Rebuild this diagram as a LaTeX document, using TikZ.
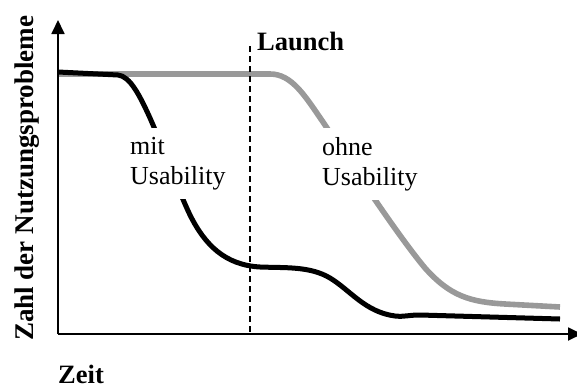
\documentclass[tikz,border=0pt]{standalone}
\usepackage{fontspec}
\setmainfont{Liberation Serif}
\usetikzlibrary{arrows.meta}
\definecolor{curvegray}{RGB}{153,153,153}
\tikzset{
  axis/.style={line width=1.8pt, -{Triangle[length=14pt,width=13pt]}},
  launchline/.style={line width=1.3pt, dash pattern=on 6pt off 4pt},
  withcurve/.style={line width=5pt, black},
  withoutcurve/.style={line width=5.6pt, curvegray},
  lbl/.style={font=\fontsize{26}{30}\selectfont, align=left, inner sep=0pt},
  boldlbl/.style={lbl, font=\fontsize{26.5}{30}\selectfont\bfseries},
  gapbox/.style={lbl, fill=white, inner xsep=3pt, inner ysep=9pt, anchor=north west}
}
\begin{document}
\begin{tikzpicture}[x=1pt, y=-1pt]
  \useasboundingbox (0,0) rectangle (577,388);
  \coordinate (O) at (58,334);
  \coordinate (ytip) at (58,20);
  \coordinate (xtip) at (582,334);
  \coordinate (ltop) at (250,46);
  \coordinate (lbot) at (250,334);

  % curve without usability (gray)
  \draw[withoutcurve] (58,74) -- (270,74)
    .. controls (292,74) and (305,96) .. (323,122)
    .. controls (345,155) and (395,232) .. (425,268)
    .. controls (450,296) and (470,302) .. (505,304)
    -- (560,307);
  % curve with usability (black)
  \draw[withcurve] (58,72) -- (118,75)
    .. controls (130,76) and (140,96) .. (150,118)
    .. controls (165,152) and (178,190) .. (190,215)
    .. controls (205,245) and (225,265) .. (260,267)
    .. controls (285,268) and (310,266) .. (330,278)
    .. controls (350,290) and (365,312) .. (395,316)
    .. controls (405,317) and (408,315) .. (420,315)
    -- (560,319);

  % labels that interrupt the curves
  \node[gapbox] (mit) at (127,128) {mit\\Usability};
  \node[gapbox] (ohne) at (319,128) {ohne\\Usability};

  % launch marker
  \draw[launchline] (ltop) -- (lbot);
  \node[boldlbl, anchor=base west] (launch) at (257,50) {Launch};

  % axes
  \draw[axis] (O) -- (ytip);
  \draw[axis] (O) -- (xtip);
  \node[boldlbl, anchor=base west] (zeit) at (58,383) {Zeit};
  \node[boldlbl, font=\fontsize{27}{30}\selectfont\bfseries, anchor=base west, rotate=90] (ylabel) at (33,341) {Zahl der Nutzungsprobleme};
\end{tikzpicture}
\end{document}
